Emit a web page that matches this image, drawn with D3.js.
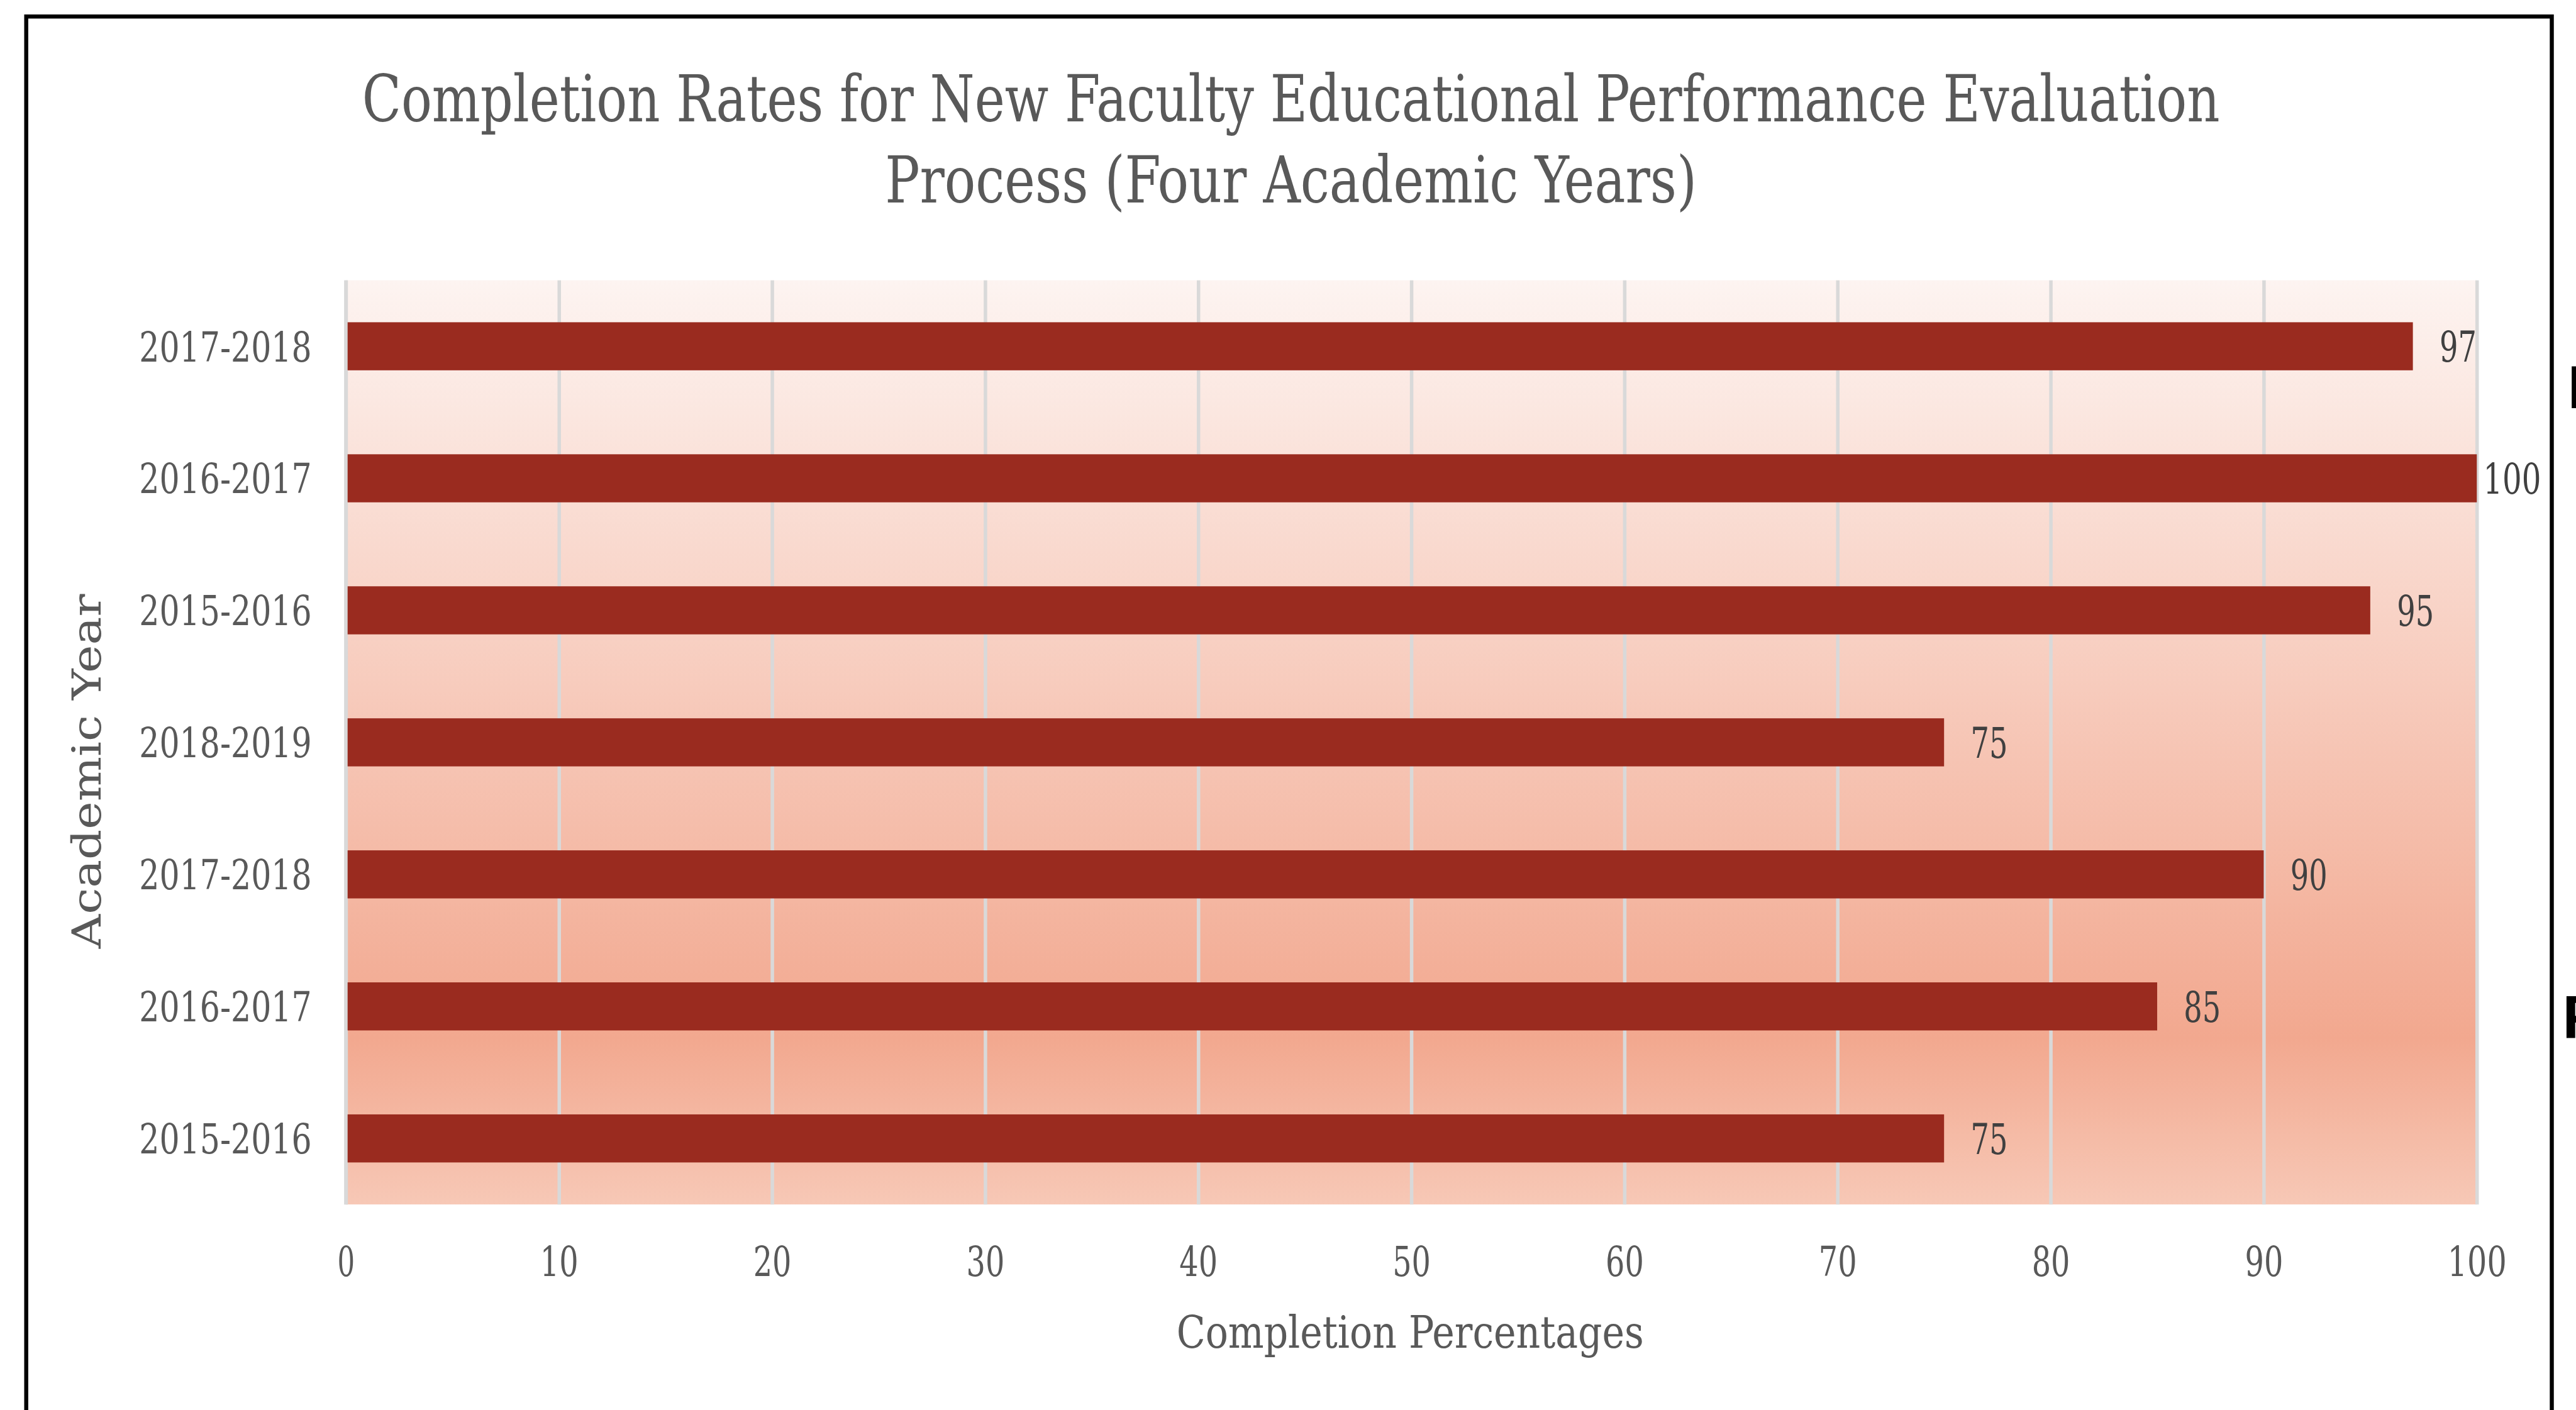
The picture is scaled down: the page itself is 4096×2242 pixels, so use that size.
<!DOCTYPE html>
<html>
<head>
<meta charset="utf-8">
<script src="https://cdn.jsdelivr.net/npm/d3@7"></script>
<style>
  html, body { margin: 0; padding: 0; background: #ffffff; overflow: hidden; }
  svg { display: block; }
</style>
</head>
<body>
<div id="chart"></div>
<script>
// ---- data ----
const yearLabels = ["2017-2018", "2016-2017", "2015-2016", "2018-2019", "2017-2018", "2016-2017", "2015-2016"];
const completion = [97, 100, 95, 75, 90, 85, 75];
const xTickValues = [0, 10, 20, 30, 40, 50, 60, 70, 80, 90, 100];
const titleLines = ["Completion Rates for New Faculty Educational Performance Evaluation",
                    "Process (Four Academic Years)"];
const xAxisTitle = "Completion Percentages";
const yAxisTitle = "Academic Year";
const sideFragments = ["I", "F"];

// ---- layout (reference pixel space, scaled by viewBox to 0.92) ----
const W = 4448, H = 2435;
const plot = { left: 597, right: 4277, top: 484, bottom: 2080 };
const serif = "'DejaVu Serif Condensed', 'DejaVu Serif', 'Liberation Serif', serif";
const textGrey = "#595959";

const svg = d3.select("#chart").append("svg")
  .attr("width", 4096).attr("height", 2242)
  .attr("viewBox", `0 0 ${W} ${H}`);

svg.append("rect").attr("width", W).attr("height", H).attr("fill", "#ffffff");

const defs = svg.append("defs");
const grad = defs.append("linearGradient").attr("id", "bgGrad")
  .attr("x1", 0).attr("y1", 0).attr("x2", 0).attr("y2", 1);
grad.append("stop").attr("offset", "0").attr("stop-color", "#FDF4F1");
grad.append("stop").attr("offset", "0.82").attr("stop-color", "#F2A88F");
grad.append("stop").attr("offset", "1").attr("stop-color", "#F7C8B6");

// scales
const x = d3.scaleLinear().domain([0, 100]).range([plot.left, plot.right]);
const idx = d3.range(completion.length);
const y = d3.scaleBand().domain(idx).range([plot.top, plot.bottom])
  .paddingInner(0.636).paddingOuter(0.318);

// plot background
svg.append("rect")
  .attr("x", x(0)).attr("y", plot.top)
  .attr("width", x(100) - x(0)).attr("height", plot.bottom - plot.top)
  .attr("fill", "url(#bgGrad)");

// gridlines
const grid = svg.append("g").attr("transform", `translate(0,${plot.bottom})`)
  .call(d3.axisBottom(x).tickValues(xTickValues).tickSize(-(plot.bottom - plot.top)).tickFormat(""));
grid.select(".domain").remove();
grid.selectAll("line").attr("stroke", "#D9D9D9").attr("stroke-width", 6);

// bars
svg.append("g").selectAll("rect").data(idx).join("rect")
  .attr("x", x(0))
  .attr("y", i => y(i))
  .attr("width", i => x(completion[i]) - x(0))
  .attr("height", y.bandwidth())
  .attr("fill", "#9A2B1F");

// value axis line at 0 (drawn above bars)
svg.append("line")
  .attr("x1", x(0)).attr("x2", x(0))
  .attr("y1", plot.top).attr("y2", plot.bottom)
  .attr("stroke", "#D9D9D9").attr("stroke-width", 6);

// data labels
const digitW = 32;
const labelW = v => String(v).length * digitW + (String(v).length > 2 ? 4 : 0);
svg.append("g").selectAll("text").data(idx).join("text")
  .attr("x", i => Math.min(x(completion[i]) + 46, 4388 - labelW(completion[i])))
  .attr("y", i => y(i) + y.bandwidth() / 2 + 27)
  .attr("font-family", serif).attr("font-stretch", "condensed")
  .attr("font-size", 73)
  .attr("fill", "#404040")
  .attr("textLength", i => labelW(completion[i]))
  .attr("lengthAdjust", "spacingAndGlyphs")
  .text(i => completion[i]);

// x axis tick labels
const xAxis = svg.append("g").attr("transform", `translate(0,${plot.bottom})`)
  .call(d3.axisBottom(x).tickValues(xTickValues).tickSize(0).tickFormat(d3.format("d")));
xAxis.select(".domain").remove();
xAxis.selectAll("text")
  .attr("y", 124).attr("dy", 0)
  .attr("font-family", serif).attr("font-stretch", "condensed")
  .attr("font-size", 72).attr("fill", textGrey)
  .attr("textLength", d => String(d).length === 1 ? 30 : (String(d).length === 2 ? 66 : 102))
  .attr("lengthAdjust", "spacingAndGlyphs");

// y axis tick labels
const yAxis = svg.append("g").attr("transform", `translate(${plot.left},0)`)
  .call(d3.axisLeft(y).tickSize(0).tickFormat(i => yearLabels[i]));
yAxis.select(".domain").remove();
yAxis.selectAll("text")
  .attr("x", -59).attr("dy", 26)
  .attr("font-family", serif).attr("font-stretch", "condensed")
  .attr("font-size", 72).attr("fill", textGrey)
  .attr("text-anchor", "end")
  .attr("textLength", 298)
  .attr("lengthAdjust", "spacingAndGlyphs");

// title
const titleBase = [210, 350];
const titleLen = [3208, 1402];
svg.append("g").selectAll("text").data(titleLines).join("text")
  .attr("x", 2229).attr("y", (d, i) => titleBase[i])
  .attr("text-anchor", "middle")
  .attr("font-family", serif).attr("font-stretch", "condensed")
  .attr("font-size", 112).attr("fill", textGrey)
  .attr("textLength", (d, i) => titleLen[i])
  .attr("lengthAdjust", "spacingAndGlyphs")
  .text(d => d);

// axis titles
svg.append("text")
  .attr("x", 2435).attr("y", 2328)
  .attr("text-anchor", "middle")
  .attr("font-family", serif).attr("font-stretch", "condensed")
  .attr("font-size", 77).attr("fill", textGrey)
  .attr("textLength", 807).attr("lengthAdjust", "spacingAndGlyphs")
  .text(xAxisTitle);

svg.append("text")
  .attr("transform", "translate(173,1332) rotate(-90)")
  .attr("text-anchor", "middle")
  .attr("font-family", "'DejaVu Serif', 'Liberation Serif', serif")
  .attr("font-size", 70).attr("fill", textGrey)
  .attr("textLength", 612).attr("lengthAdjust", "spacingAndGlyphs")
  .text(yAxisTitle);

// outer frame (bottom edge lies outside the picture)
svg.append("path")
  .attr("d", `M45,${H + 20} V28.5 H4406.5 V${H + 20}`)
  .attr("fill", "none").attr("stroke", "#000000").attr("stroke-width", 7);

// cut-off text fragments beyond the frame (as in the reference)
const fragY = [705, 1792];
const fragX = [4434, 4425];
svg.append("g").selectAll("text").data(sideFragments).join("text")
  .attr("x", (d, i) => fragX[i]).attr("y", (d, i) => fragY[i])
  .attr("font-family", "'Liberation Sans', Arial, sans-serif")
  .attr("font-weight", "bold").attr("font-size", 104).attr("fill", "#000000")
  .text(d => d);
</script>
</body>
</html>
